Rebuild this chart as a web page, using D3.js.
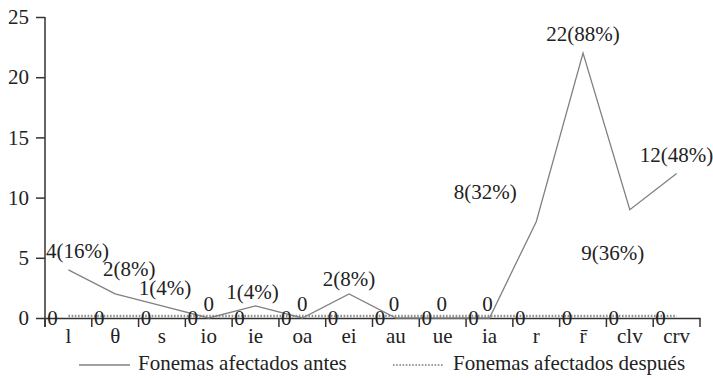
<!DOCTYPE html>
<html lang="es">
<head>
    <meta charset="UTF-8">
    <title>Fonemas afectados antes y después</title>
    <script src="https://d3js.org/d3.v7.min.js"></script>
    <style>
        body {
            margin: 0;
            background: #fff;
        }

        svg text {
            fill: #222;
            font-size: 21px;
            font-family: "Liberation Serif", "Times New Roman", serif;
        }

        .axis path,
        .axis line {
            stroke: #333;
            stroke-width: 1.5;
        }
    </style>
</head>
<body>
    <svg id="chart"></svg>
    <script>
        const categories = ["l", "θ", "s", "io", "ie", "oa", "ei", "au", "ue", "ia", "r", "r\u0304", "clv", "crv"];
        const antes = [4, 2, 1, 0, 1, 0, 2, 0, 0, 0, 8, 22, 9, 12];
        const despues = [0, 0, 0, 0, 0, 0, 0, 0, 0, 0, 0, 0, 0, 0];
        const antesLabels = ["4(16%)", "2(8%)", "1(4%)", "0", "1(4%)", "0", "2(8%)", "0", "0", "0", "8(32%)", "22(88%)", "9(36%)", "12(48%)"];
        const despuesLabels = ["0", "0", "0", "0", "0", "0", "0", "0", "0", "0", "0", "0", "0", "0"];
        const yTicks = [0, 5, 10, 15, 20, 25];
        const seriesNames = ["Fonemas afectados antes", "Fonemas afectados después"];

        // label nudges (dx, dy from the point), as placed in the original
        const antesLabelShift = [[9, -12], [14, -18], [3, -11], [0, -7], [-3, -7], [0, -7], [0, -8],
            [-2, -7], [-1, -7], [-2, -7], [-51, -23], [0, -12], [-17, 50], [0, -12]];

        const W = 713, H = 378;
        const margin = { top: 17, right: 13, bottom: 60, left: 45 };

        const svg = d3.select("#chart")
            .attr("width", W)
            .attr("height", H);

        const x = d3.scaleBand()
            .domain(categories)
            .range([margin.left, W - margin.right]);

        const y = d3.scaleLinear()
            .domain([0, 25])
            .range([H - margin.bottom, margin.top]);

        const cx = d => x(d) + x.bandwidth() / 2;

        // x axis, ticks between categories pointing down
        const xAxis = svg.append("g")
            .attr("class", "axis")
            .attr("transform", `translate(0, ${y(0)})`)
            .call(d3.axisBottom(x).tickSize(0).tickSizeOuter(0).tickFormat(""));

        xAxis.selectAll(".tick").remove();

        const boundaries = categories.map(c => x(c)).concat([x.range()[1]]);
        xAxis.selectAll(".bound")
            .data(boundaries)
            .enter()
            .append("line")
            .attr("x1", d => d)
            .attr("x2", d => d)
            .attr("y1", 0)
            .attr("y2", 9);

        xAxis.selectAll(".cat")
            .data(categories)
            .enter()
            .append("text")
            .attr("x", d => cx(d))
            .attr("y", 25)
            .attr("text-anchor", "middle")
            .text(d => d);

        // y axis
        const yAxis = svg.append("g")
            .attr("class", "axis")
            .attr("transform", `translate(${margin.left}, 0)`)
            .call(d3.axisLeft(y).tickValues(yTicks).tickSize(9).tickSizeOuter(0).tickPadding(7));

        yAxis.select(".domain").attr("d", `M0,${y(25)}V${y(0) + 9}`);

        // lines
        const line = d3.line()
            .x((d, i) => cx(categories[i]))
            .y(d => y(d));

        svg.append("path")
            .datum(despues)
            .attr("fill", "none")
            .attr("stroke", "#8f8f8f")
            .attr("stroke-width", 2.5)
            .attr("stroke-dasharray", "1.6,1.6")
            .attr("transform", "translate(0,-2)")
            .attr("d", line);

        svg.append("path")
            .datum(antes)
            .attr("fill", "none")
            .attr("stroke", "#808080")
            .attr("stroke-width", 1.3)
            .attr("d", line);

        // data labels
        svg.selectAll(".lab-antes")
            .data(antes)
            .enter()
            .append("text")
            .attr("x", (d, i) => cx(categories[i]) + antesLabelShift[i][0])
            .attr("y", (d, i) => y(d) + antesLabelShift[i][1])
            .attr("text-anchor", "middle")
            .text((d, i) => antesLabels[i]);

        svg.selectAll(".lab-despues")
            .data(despues)
            .enter()
            .append("text")
            .attr("x", (d, i) => cx(categories[i]) - 16)
            .attr("y", d => y(d) + 7)
            .attr("text-anchor", "middle")
            .text((d, i) => despuesLabels[i]);

        // legend
        const legend = svg.append("g").attr("transform", `translate(0, ${H - 8})`);

        legend.append("line")
            .attr("x1", 79).attr("x2", 130)
            .attr("y1", -5).attr("y2", -5)
            .attr("stroke", "#808080")
            .attr("stroke-width", 1.3);
        legend.append("text")
            .attr("x", 138)
            .attr("y", 0)
            .text(seriesNames[0]);

        legend.append("line")
            .attr("x1", 393).attr("x2", 443)
            .attr("y1", -5).attr("y2", -5)
            .attr("stroke", "#9a9a9a")
            .attr("stroke-width", 2)
            .attr("stroke-dasharray", "1.6,1.6");
        legend.append("text")
            .attr("x", 453)
            .attr("y", 0)
            .text(seriesNames[1]);
    </script>
</body>
</html>
